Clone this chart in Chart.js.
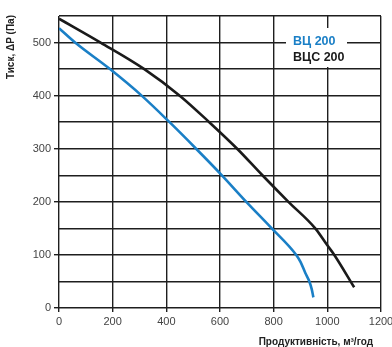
<!DOCTYPE html>
<html>
<head>
<meta charset="utf-8">
<script src="https://cdn.jsdelivr.net/npm/chart.js@4"></script>
<style>
  html, body { margin: 0; padding: 0; background: #fff; }
  #wrap { width: 392px; height: 347px; }
</style>
</head>
<body>
<div id="wrap"><canvas id="chart" width="392" height="347"></canvas></div>
<script>
// ВЦ 200 (синя крива)
const vcFlow = [0, 60, 190, 308, 412, 511, 607, 698, 793, 884, 900, 918, 933, 942, 948];
const vcPressure = [527, 500, 450, 400, 350, 300, 250, 200, 150, 100, 87, 66, 50, 35, 20];

// ВЦС 200 (чорна крива)
const vcsFlow = [0, 155, 318, 450, 560, 664, 758, 855, 955, 1000, 1026, 1100];
const vcsPressure = [545, 500, 450, 400, 350, 300, 250, 200, 150, 118, 100, 39];

const xTicks = [0, 200, 400, 600, 800, 1000, 1200];
const yTicks = [0, 100, 200, 300, 400, 500];

const seriesNames = ['ВЦ 200', 'ВЦС 200'];
const seriesColors = ['#1a7fc6', '#1a1a1a'];
const xTitle = 'Продуктивність, м³/год';
const yTitle = 'Тиск, ΔP (Па)';

const FONT = '"Liberation Sans", Arial, sans-serif';

const toPoints = (xs, ys) => xs.map((x, i) => ({ x: x, y: ys[i] }));

// Легенда всередині графіка та підписи осей
const extras = {
    id: 'extras',
    afterDatasetsDraw(chart) {
        const ctx = chart.ctx;
        const area = chart.chartArea;
        ctx.save();
        ctx.fillStyle = '#fff';
        ctx.fillRect(286, 28, 61, 39);
        ctx.font = 'bold 12.5px ' + FONT;
        ctx.textBaseline = 'alphabetic';
        ctx.textAlign = 'left';
        seriesNames.forEach((name, i) => {
            ctx.fillStyle = seriesColors[i];
            ctx.fillText(name, 293, 44.5 + i * 16.5);
        });

        ctx.fillStyle = '#222';
        ctx.font = 'bold 10px ' + FONT;
        ctx.textBaseline = 'middle';
        ctx.textAlign = 'right';
        ctx.fillText(xTitle, area.right - 8, 342);

        ctx.translate(11.5, area.top - 1);
        ctx.rotate(-Math.PI / 2);
        ctx.fillText(yTitle, 0, 0);
        ctx.restore();
    }
};

const gridColor = '#1e1e1e';

new Chart(document.getElementById('chart').getContext('2d'), {
    type: 'scatter',
    data: {
        datasets: [
            {
                label: seriesNames[0],
                data: toPoints(vcFlow, vcPressure),
                borderColor: seriesColors[0],
                borderWidth: 2.6,
                showLine: true,
                pointRadius: 0,
                cubicInterpolationMode: 'monotone'
            },
            {
                label: seriesNames[1],
                data: toPoints(vcsFlow, vcsPressure),
                borderColor: seriesColors[1],
                borderWidth: 2.6,
                showLine: true,
                pointRadius: 0,
                cubicInterpolationMode: 'monotone'
            }
        ]
    },
    options: {
        responsive: false,
        animation: false,
        layout: { padding: { top: 16, right: 11, left: 0, bottom: 0 } },
        plugins: {
            legend: { display: false },
            tooltip: { enabled: false }
        },
        scales: {
            x: {
                type: 'linear',
                min: xTicks[0],
                max: xTicks[xTicks.length - 1],
                afterBuildTicks: s => { s.ticks = xTicks.map(v => ({ value: v })); },
                afterFit: s => { s.height = 39; s.paddingLeft = 0; s.paddingRight = 0; },
                border: { display: false },
                grid: { color: gridColor, lineWidth: 1.4, tickLength: 4, tickColor: gridColor },
                ticks: {
                    color: '#444',
                    padding: 3,
                    maxRotation: 0,
                    callback: v => String(v),
                    font: { family: FONT, size: 11 }
                }
            },
            y: {
                type: 'linear',
                min: 0,
                max: 550,
                afterBuildTicks: s => {
                    const t = [];
                    for (let v = 0; v <= 550; v += 50) t.push({ value: v });
                    s.ticks = t;
                },
                afterFit: s => { s.width = 59; s.paddingTop = 0; s.paddingBottom = 0; },
                border: { display: false },
                grid: {
                    color: gridColor,
                    lineWidth: 1.4,
                    tickLength: 5,
                    tickColor: c => (yTicks.includes(c.tick.value) ? gridColor : 'rgba(0,0,0,0)')
                },
                ticks: {
                    color: '#444',
                    padding: 3,
                    callback: v => (yTicks.includes(v) ? String(v) : ''),
                    font: { family: FONT, size: 11 }
                }
            }
        }
    },
    plugins: [extras]
});
</script>
</body>
</html>
